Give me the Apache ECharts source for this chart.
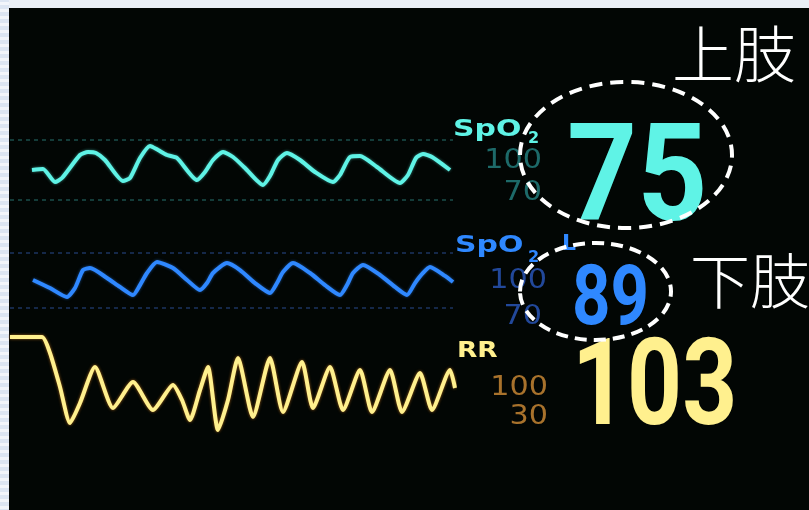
<!DOCTYPE html>
<html>
<head>
<meta charset="utf-8">
<script src="https://cdn.jsdelivr.net/npm/echarts@6/dist/echarts.min.js"></script>
<style>html,body{margin:0;padding:0;background:#000}#c{width:809px;height:510px}</style>
</head>
<body>
<div id="c"></div>
<script>
// ---- Data ----
// Upper-limb SpO2 pleth waveform: time (sample units), value on the 70–100 scale
const spo2UpT = [22,33,45,52,70,78,86,95,113,120,130,140,148,157,167,187,195,203,213,223,235,253,260,268,277,290,305,323,330,340,350,367,390,398,406,413,422,440];
const spo2UpV = [85,85.5,79,81,92.5,94,93.5,90,79.5,81,91,97,95,92.5,91,80,84,90,94,91.5,86,77.5,82,90,93.5,90,84,79,82.5,91.5,92,86.5,78.5,82.5,91,93,91.5,85];
// Lower-limb SpO2 pleth waveform
const spo2LoT = [23,40,57,65,73,80,97,110,123,130,137,147,163,177,190,197,203,217,230,245,260,267,273,283,300,315,330,337,343,353,370,385,397,405,413,420,435,443];
const spo2LoV = [85.3,80.9,76,80.9,90.7,91.8,86.4,81.5,77.1,82.5,89.1,95.1,91.8,85.3,79.8,83.6,89.1,94.5,90.7,83.6,78.2,83.6,89.6,94.5,89.1,82.5,77.1,82.5,89.1,93.5,88,81.5,77.1,83.6,89.1,92.4,87.5,84.2];
// Respiration waveform
const rrT = [0,32,40,50,60,70,85,103,123,143,163,172,180,190,198,208,218,228,243,260,273,292,303,320,333,350,362,380,392,410,422,440,445];
const rrV = [103,103,87,53,17,37,73,32,58,30,55,40,20,50,73,10,40,82,23,82,28,78,32,73,30,70,28,70,28,67,30,70,52];
// Scale labels and readings
const spo2Scale = ['100','70'];
const rrScale = ['100','30'];
const readings = ['75','89','103'];
const limbLabels = ['上肢','下肢'];
const paramLabels = ['SpO','2','L','RR'];

function pairs(t, v){ return t.map((x,i)=>[x, v[i]]); }

const chart = echarts.init(document.getElementById('c'), null, {renderer:'canvas'});

const cyan = '#5ff3e6', cyanDim = '#1d6a69';
const blue = '#2f88ff', blueDim = '#22489a';
const yellow = '#fff08e', orangeDim = '#a8722c';

const hidden = {show:false};
function yAx(idx, min, max, splitColor){
  return {type:'value', gridIndex:idx, min:min, max:max, interval:(max-min),
    axisLine:hidden, axisTick:hidden, axisLabel:hidden,
    splitLine: splitColor ? {show:true, lineStyle:{color:splitColor, type:[4,4], width:1.5}} : hidden};
}
function xAx(idx, max){
  return {type:'value', gridIndex:idx, min:0, max:max, axisLine:hidden, axisTick:hidden, axisLabel:hidden, splitLine:hidden};
}

const graphics = [];
// light frame strips
graphics.push({type:'rect', shape:{x:0,y:0,width:809,height:8}, style:{fill:'#eaeff6'}, z:-10});
graphics.push({type:'rect', shape:{x:0,y:0,width:9,height:510}, style:{fill:'#dce5f2'}, z:-10});
for (let y=2; y<510; y+=7){
  graphics.push({type:'rect', shape:{x:0,y:y,width:9,height:3}, style:{fill:'#f2f5fa'}, z:-9});
}

function txt(text, x, y, font, fill, opts){
  opts = opts || {};
  return {type:'text', x:x, y:y, scaleX: opts.sx || 1, z:5,
    style:{text:text, font:font, fill:fill, align: opts.align || 'left', verticalAlign:'middle',
      shadowColor: opts.glow || 'transparent', shadowBlur: opts.glow ? 4 : 0}};
}
// SpO2 upper
graphics.push(txt(paramLabels[0], 453, 130, 'bold 23px "DejaVu Sans"', cyan, {sx:1.3}));
graphics.push(txt(paramLabels[1], 528, 139, 'bold 16px "DejaVu Sans"', cyan));
graphics.push(txt(spo2Scale[0], 542, 161, '27px "DejaVu Sans"', cyanDim, {align:'right', sx:1.12}));
graphics.push(txt(spo2Scale[1], 542, 193, '27px "DejaVu Sans"', cyanDim, {align:'right', sx:1.12}));
// SpO2 lower
graphics.push(txt(paramLabels[0], 455, 246, 'bold 23px "DejaVu Sans"', blue, {sx:1.3}));
graphics.push(txt(paramLabels[1], 528, 258, 'bold 16px "DejaVu Sans"', blue));
graphics.push(txt(paramLabels[2], 562, 244, 'bold 22px "DejaVu Sans"', blue));
graphics.push(txt(spo2Scale[0], 547, 281, '27px "DejaVu Sans"', blueDim, {align:'right', sx:1.12}));
graphics.push(txt(spo2Scale[1], 542, 317, '27px "DejaVu Sans"', blueDim, {align:'right', sx:1.12}));
// RR
graphics.push(txt(paramLabels[3], 457, 351, 'bold 22px "DejaVu Sans"', yellow, {sx:1.2}));
graphics.push(txt(rrScale[0], 548, 388, '27px "DejaVu Sans"', orangeDim, {align:'right', sx:1.12}));
graphics.push(txt(rrScale[1], 548, 417, '27px "DejaVu Sans"', orangeDim, {align:'right', sx:1.12}));
// Big readings
graphics.push(txt(readings[0], 567, 186, 'bold 136px Roboto', cyan, {sx:0.9}));
graphics.push(txt(readings[1], 572, 303, 'bold 84px Roboto', blue, {sx:0.8}));
graphics.push(txt(readings[2], 572, 394, 'bold 120px Roboto', yellow, {sx:0.8, glow:'#c07020'}));
// Limb annotations
graphics.push(txt(limbLabels[0], 672, 54, '300 62px "Noto Sans CJK SC"', '#ffffff'));
graphics.push(txt(limbLabels[1], 690, 281, '300 60px "Noto Sans CJK SC"', '#ffffff'));
// Dashed ellipses
graphics.push({type:'ellipse', z:6, shape:{cx:626, cy:155, rx:106, ry:73}, style:{fill:null, stroke:'#ffffff', lineWidth:4, lineDash:[13,8]}});
graphics.push({type:'ellipse', z:6, shape:{cx:595.5, cy:291.5, rx:75.5, ry:48.5}, style:{fill:null, stroke:'#ffffff', lineWidth:4, lineDash:[12,7]}});

function wave(idx, data, color, glow){
  return {type:'line', xAxisIndex:idx, yAxisIndex:idx, data:data, showSymbol:false, smooth:0.2, clip:false,
    lineStyle:{color:color, width:4, shadowColor:glow, shadowBlur:3}, z:3, animation:false};
}

chart.setOption({
  animation:false,
  backgroundColor:'#020604',
  grid:[
    {left:10, width:443, top:140, height:60},
    {left:10, width:443, top:253, height:55},
    {left:10, width:445, top:330, height:110}
  ],
  xAxis:[xAx(0,443), xAx(1,443), xAx(2,445)],
  yAxis:[yAx(0,70,100,'#1b4f4b'), yAx(1,70,100,'#1c3560'), yAx(2,0,110,null)],
  series:[
    wave(0, pairs(spo2UpT, spo2UpV), cyan, 'rgba(95,243,230,0.5)'),
    wave(1, pairs(spo2LoT, spo2LoV), blue, 'rgba(47,136,255,0.5)'),
    wave(2, pairs(rrT, rrV), yellow, 'rgba(200,120,30,0.8)')
  ],
  graphic: graphics
});
</script>
</body>
</html>
